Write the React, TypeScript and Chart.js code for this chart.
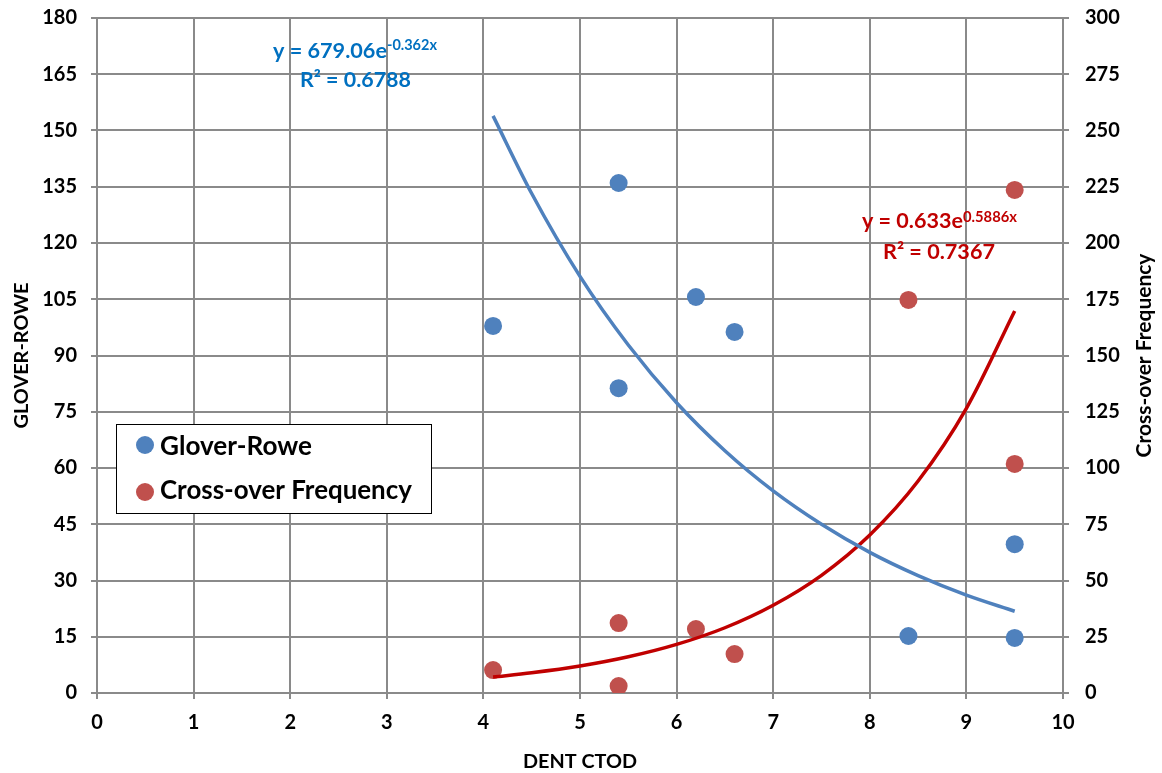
import React, { useEffect, useRef } from "react";
import { Chart, registerables } from "chart.js";

Chart.register(...registerables);

// ---- data ----
const ctod = [4.1, 5.4, 5.4, 6.2, 6.6, 8.4, 9.5, 9.5];
const gloverRowe = [97.9, 136.0, 81.3, 105.6, 96.3, 15.2, 39.7, 14.7];
const crossoverFreq = [10.2, 31.1, 3.1, 28.4, 17.3, 174.7, 223.6, 101.8];

// trend lines
const trendX = [4.1, 4.5, 5.0, 5.5, 6.0, 6.5, 7.0, 7.5, 8.0, 8.5, 9.0, 9.5];
const gloverTrend = [153.9, 133.2, 111.1, 92.8, 77.4, 64.6, 53.9, 45.0, 37.5, 31.3, 26.1, 21.8];
const crossTrend = [7.1, 9.0, 12.0, 16.1, 21.6, 29.0, 39.0, 52.3, 70.2, 94.2, 126.5, 169.8];

// ticks
const xTicks = [0, 1, 2, 3, 4, 5, 6, 7, 8, 9, 10];
const leftTicks = [0, 15, 30, 45, 60, 75, 90, 105, 120, 135, 150, 165, 180];
const rightTicks = [0, 25, 50, 75, 100, 125, 150, 175, 200, 225, 250, 275, 300];

// texts
const legendLabels = ["Glover-Rowe", "Cross-over Frequency"];
const xTitle = "DENT CTOD";
const leftTitle = "GLOVER-ROWE";
const rightTitle = "Cross-over Frequency";
const blueEq = { main: "y = 679.06e", sup: "-0.362x", r2: "R² = 0.6788" };
const redEq = { main: "y = 0.633e", sup: "0.5886x", r2: "R² = 0.7367" };

const FONT = "Lato";
const BLUE = "#4F81BD";
const RED = "#C0504D";
const BLUE_TXT = "#0070C0";
const RED_TXT = "#C00000";
const GRID = "#8a8a8a";

function fitSize(ctx: CanvasRenderingContext2D, text: string, width: number, weight: string) {
  ctx.font = `${weight} 100px ${FONT}`;
  const w = ctx.measureText(text).width;
  return (100 * width) / w;
}

function drawFit(
  ctx: CanvasRenderingContext2D,
  text: string,
  x: number,
  y: number,
  width: number,
  color: string,
  weight = "bold",
  align: CanvasTextAlign = "left"
) {
  const size = fitSize(ctx, text, width, weight);
  ctx.font = `${weight} ${size}px ${FONT}`;
  ctx.fillStyle = color;
  ctx.textAlign = align;
  ctx.textBaseline = "alphabetic";
  ctx.fillText(text, x, y);
}

const overlay = {
  id: "overlay",
  afterDraw(chart: any) {
    const ctx: CanvasRenderingContext2D = chart.ctx;
    const area = chart.chartArea;
    const midY = (area.top + area.bottom) / 2;
    const midX = (area.left + area.right) / 2;
    ctx.save();
    // equations
    drawFit(ctx, blueEq.main, 273, 58, 114, BLUE_TXT);
    drawFit(ctx, blueEq.sup, 387, 50, 50, BLUE_TXT);
    drawFit(ctx, blueEq.r2, 300, 87, 111, BLUE_TXT);
    drawFit(ctx, redEq.main, 862, 228, 101, RED_TXT);
    drawFit(ctx, redEq.sup, 963, 222, 54, RED_TXT);
    drawFit(ctx, redEq.r2, 883, 259, 112, RED_TXT);

    // legend
    ctx.fillStyle = "#ffffff";
    ctx.fillRect(116, 424, 316, 90);
    ctx.strokeStyle = "#000000";
    ctx.lineWidth = 1;
    ctx.strokeRect(116.5, 424.5, 315, 89);
    const colors = [BLUE, RED];
    const ys = [445, 492];
    const bases = [455, 499];
    const widths = [152, 252];
    legendLabels.forEach((lab, i) => {
      ctx.beginPath();
      ctx.arc(145, ys[i], 9, 0, Math.PI * 2);
      ctx.fillStyle = colors[i];
      ctx.fill();
      drawFit(ctx, lab, 160, bases[i], widths[i], "#000000");
    });

    // axis titles
    drawFit(ctx, xTitle, midX, 768, 114, "#000000", "bold", "center");
    ctx.save();
    ctx.translate(28, midY);
    ctx.rotate(-Math.PI / 2);
    drawFit(ctx, leftTitle, 0, 0, 146, "#000000", "bold", "center");
    ctx.restore();
    ctx.save();
    ctx.translate(1151, midY);
    ctx.rotate(-Math.PI / 2);
    drawFit(ctx, rightTitle, 0, 0, 204, "#000000", "bold", "center");
    ctx.restore();
    ctx.restore();
  },
};

export default function App() {
  const ref = useRef<HTMLCanvasElement | null>(null);
  useEffect(() => {
    document.body.style.margin = "0";
    const canvas = ref.current!;
    const pts = (xs: number[], ys: number[]) => xs.map((x, i) => ({ x, y: ys[i] }));
    const tickFont = { family: FONT, size: 20, weight: "bold" as const };
    const zeroPad = (s: any) => {
      s.paddingTop = 0;
      s.paddingBottom = 0;
      s.paddingLeft = 0;
      s.paddingRight = 0;
    };
    const chart = new Chart(canvas, {
      type: "scatter",
      data: {
        datasets: [
          {
            type: "line",
            label: "Glover-Rowe trend",
            data: pts(trendX, gloverTrend),
            yAxisID: "y",
            borderColor: BLUE,
            borderWidth: 3.5,
            pointRadius: 0,
            showLine: true,
            fill: false,
            cubicInterpolationMode: "monotone",
            order: 0,
          },
          {
            type: "line",
            label: "Cross-over trend",
            data: pts(trendX, crossTrend),
            yAxisID: "y2",
            borderColor: RED_TXT,
            borderWidth: 3.5,
            pointRadius: 0,
            showLine: true,
            fill: false,
            cubicInterpolationMode: "monotone",
            order: 0,
          },
          {
            label: legendLabels[0],
            data: pts(ctod, gloverRowe),
            yAxisID: "y",
            backgroundColor: BLUE,
            borderColor: BLUE,
            pointRadius: 9,
            borderWidth: 0,
            order: 1,
          },
          {
            label: legendLabels[1],
            data: pts(ctod, crossoverFreq),
            yAxisID: "y2",
            backgroundColor: RED,
            borderColor: RED,
            pointRadius: 9,
            borderWidth: 0,
            order: 1,
          },
        ],
      } as any,
      options: {
        animation: false,
        responsive: false,
        maintainAspectRatio: false,
        layout: { padding: { top: 18, left: 0, right: 0, bottom: 0 } },
        plugins: { legend: { display: false }, tooltip: { enabled: false } },
        scales: {
          x: {
            type: "linear",
            min: 0,
            max: 10,
            afterBuildTicks: (s: any) => {
              s.ticks = xTicks.map((v) => ({ value: v }));
            },
            afterFit: (s: any) => {
              s.height = 80;
              zeroPad(s);
            },
            grid: { color: GRID, lineWidth: 2, tickLength: 6 },
            border: { color: GRID, width: 2 },
            ticks: { font: tickFont, color: "#000", padding: 12, maxRotation: 0 },
          },
          y: {
            type: "linear",
            position: "left",
            min: 0,
            max: 180,
            afterBuildTicks: (s: any) => {
              s.ticks = leftTicks.map((v) => ({ value: v }));
            },
            afterFit: (s: any) => {
              s.width = 97;
              zeroPad(s);
            },
            grid: { color: GRID, lineWidth: 2, tickLength: 6 },
            border: { color: GRID, width: 2 },
            ticks: { font: tickFont, color: "#000", padding: 14 },
          },
          y2: {
            type: "linear",
            position: "right",
            min: 0,
            max: 300,
            afterBuildTicks: (s: any) => {
              s.ticks = rightTicks.map((v) => ({ value: v }));
            },
            afterFit: (s: any) => {
              s.width = 99;
              zeroPad(s);
            },
            grid: { color: GRID, lineWidth: 2, tickLength: 6, drawOnChartArea: false },
            border: { color: GRID, width: 2 },
            ticks: { font: tickFont, color: "#000", padding: 16 },
          },
        },
      } as any,
      plugins: [overlay],
    });
    return () => chart.destroy();
  }, []);
  return <canvas ref={ref} width={1162} height={773} style={{ display: "block" }} />;
}
